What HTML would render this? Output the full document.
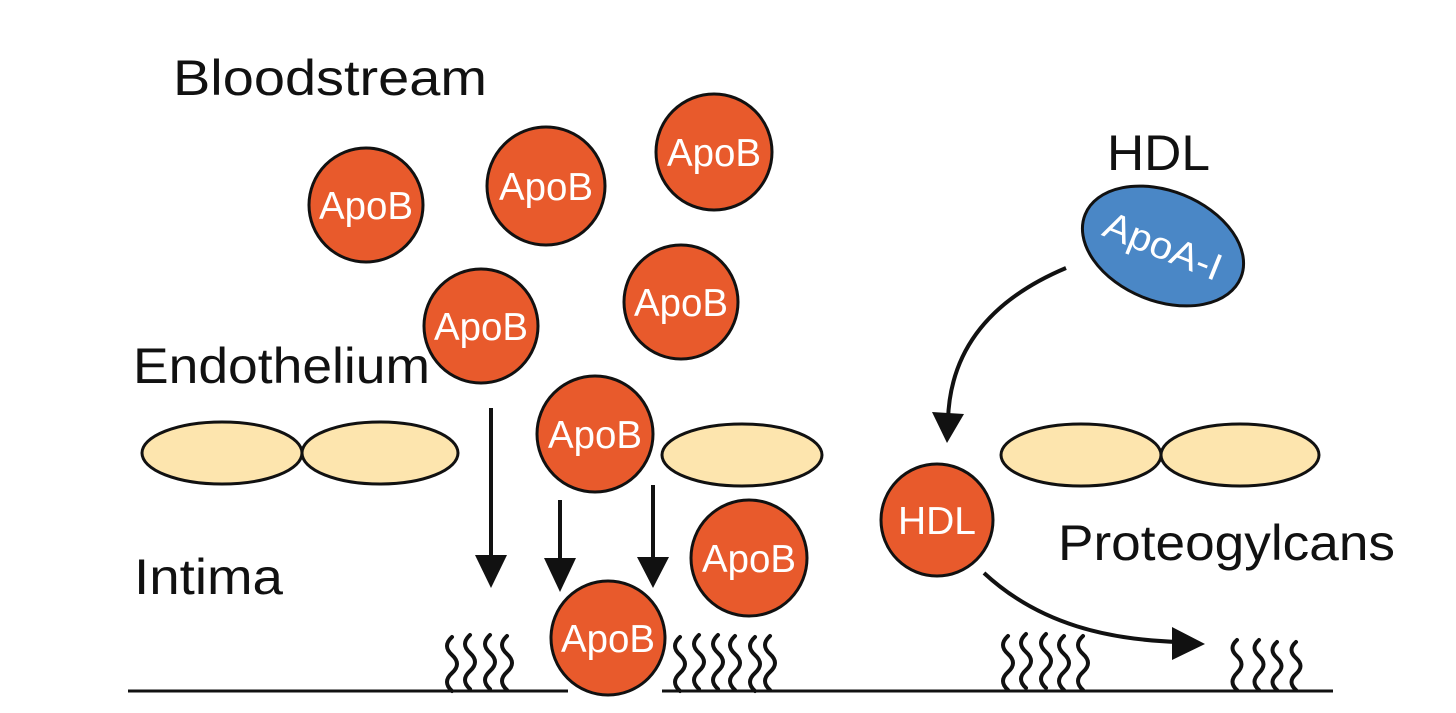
<!DOCTYPE html>
<html><head><meta charset="utf-8"><style>
html,body{margin:0;padding:0;background:#fff;}
svg{display:block;}
text{font-family:"Liberation Sans",sans-serif;}
</style></head><body>
<svg width="1456" height="713" viewBox="0 0 1456 713" xmlns="http://www.w3.org/2000/svg">
<rect width="1456" height="713" fill="#fff"/>
<g fill="#111" font-size="50">
<text x="173" y="95" textLength="314" lengthAdjust="spacingAndGlyphs">Bloodstream</text>
<text x="133" y="383" textLength="297" lengthAdjust="spacingAndGlyphs">Endothelium</text>
<text x="134" y="594" textLength="149" lengthAdjust="spacingAndGlyphs">Intima</text>
<text x="1107" y="170" textLength="103" lengthAdjust="spacingAndGlyphs">HDL</text>
<text x="1058" y="560" textLength="337" lengthAdjust="spacingAndGlyphs">Proteogylcans</text>
</g>
<g fill="#FDE5AE" stroke="#111" stroke-width="3">
<ellipse cx="222" cy="453" rx="80" ry="31"/>
<ellipse cx="380" cy="453" rx="78" ry="31"/>
<ellipse cx="742" cy="455" rx="80" ry="31"/>
<ellipse cx="1081" cy="455" rx="80" ry="31"/>
<ellipse cx="1240" cy="455" rx="79" ry="31"/>
</g>
<g stroke="#111" stroke-width="3">
<line x1="128" y1="691" x2="568" y2="691"/>
<line x1="662" y1="691" x2="1333" y2="691"/>
</g>
<g fill="none" stroke="#111" stroke-width="4" stroke-linecap="round">
<path d="M452,637 q-10,9 0,18 t0,18 t0,18"/>
<path d="M470,635 q-10,9 0,18 t0,18 t0,18"/>
<path d="M490,635 q-10,9 0,18 t0,18 t0,18"/>
<path d="M507,636 q-10,9 0,18 t0,18 t0,18"/>
<path d="M680,637 q-10,9 0,18 t0,18 t0,18"/>
<path d="M699,635 q-10,9 0,18 t0,18 t0,18"/>
<path d="M718,635 q-10,9 0,18 t0,18 t0,18"/>
<path d="M735,636 q-10,9 0,18 t0,18 t0,18"/>
<path d="M755,637 q-10,9 0,18 t0,18 t0,18"/>
<path d="M770,636 q-10,9 0,18 t0,18 t0,18"/>
<path d="M1008,636 q-10,9 0,18 t0,18 t0,18"/>
<path d="M1026,634 q-10,9 0,18 t0,18 t0,18"/>
<path d="M1046,634 q-10,9 0,18 t0,18 t0,18"/>
<path d="M1064,636 q-10,9 0,18 t0,18 t0,18"/>
<path d="M1083,636 q-10,9 0,18 t0,18 t0,18"/>
<path d="M1237,640 q-9,8 0,16 t0,17 t0,17"/>
<path d="M1259,640 q-9,8 0,16 t0,17 t0,17"/>
<path d="M1277,642 q-9,8 0,16 t0,16 t0,16"/>
<path d="M1296,642 q-9,8 0,16 t0,16 t0,16"/>
</g>
<g stroke="#111" stroke-width="4">
<line x1="491" y1="408" x2="491" y2="560"/>
<line x1="560" y1="500" x2="560" y2="565"/>
<line x1="653" y1="485" x2="653" y2="560"/>
</g>
<g fill="#111">
<polygon points="475,555 507,555 491,588"/>
<polygon points="544,558 576,558 560,592"/>
<polygon points="637,557 669,557 653,588"/>
</g>
<g fill="none" stroke="#111" stroke-width="4">
<path d="M1066,268 C990,300 950,350 948,420"/>
<path d="M984,573 C1040,625 1110,640 1180,642"/>
</g>
<g fill="#111">
<polygon points="932,412 964,414 947,443"/>
<polygon points="1172,627 1205,644 1172,660"/>
</g>
<g fill="#E85A2C" stroke="#111" stroke-width="3">
<circle cx="366" cy="205" r="57"/>
<circle cx="546" cy="186" r="59"/>
<circle cx="714" cy="152" r="58"/>
<circle cx="481" cy="326" r="57"/>
<circle cx="681" cy="302" r="57"/>
<circle cx="595" cy="434" r="58"/>
<circle cx="749" cy="558" r="58"/>
<circle cx="608" cy="638" r="57"/>
<circle cx="937" cy="520" r="56"/>
</g>
<g fill="#fff" font-size="39" text-anchor="middle">
<text x="366" y="219" textLength="94" lengthAdjust="spacingAndGlyphs">ApoB</text>
<text x="546" y="200" textLength="94" lengthAdjust="spacingAndGlyphs">ApoB</text>
<text x="714" y="166" textLength="94" lengthAdjust="spacingAndGlyphs">ApoB</text>
<text x="481" y="340" textLength="94" lengthAdjust="spacingAndGlyphs">ApoB</text>
<text x="681" y="316" textLength="94" lengthAdjust="spacingAndGlyphs">ApoB</text>
<text x="595" y="448" textLength="94" lengthAdjust="spacingAndGlyphs">ApoB</text>
<text x="749" y="572" textLength="94" lengthAdjust="spacingAndGlyphs">ApoB</text>
<text x="608" y="652" textLength="94" lengthAdjust="spacingAndGlyphs">ApoB</text>
<text x="937" y="534" textLength="78" lengthAdjust="spacingAndGlyphs">HDL</text>
</g>
<g transform="translate(1163,246) rotate(22)">
<ellipse cx="0" cy="0" rx="84" ry="55" fill="#4A87C6" stroke="#111" stroke-width="3"/>
<text x="0" y="13" fill="#fff" font-size="38" text-anchor="middle" textLength="124" lengthAdjust="spacingAndGlyphs">ApoA-I</text>
</g>
</svg>
</body></html>
